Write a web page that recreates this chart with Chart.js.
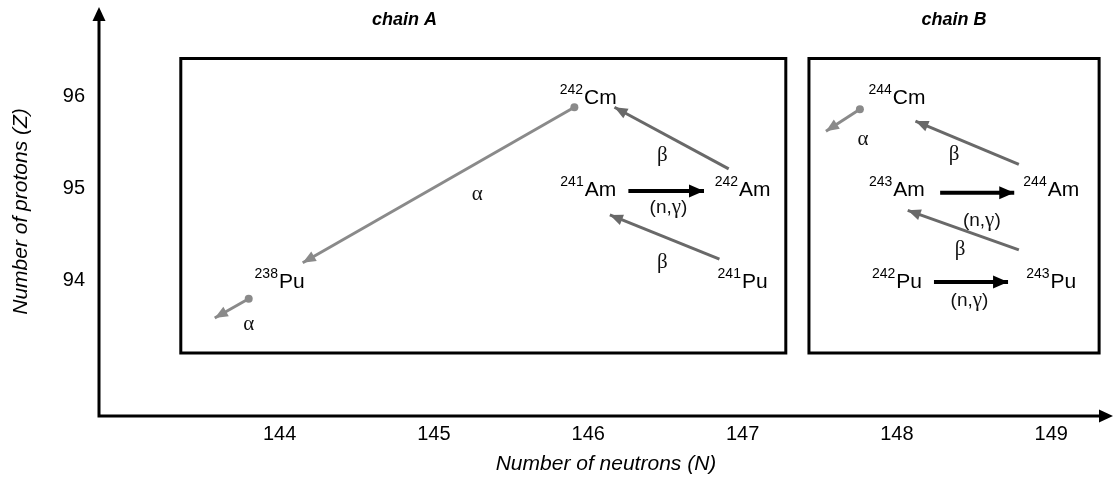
<!DOCTYPE html>
<html>
<head>
<meta charset="utf-8">
<title>Build-up chains of Pu, Am and Cm</title>
<script src="https://cdn.jsdelivr.net/npm/chart.js@4/dist/chart.umd.min.js"></script>
<style>
  html, body { margin: 0; padding: 0; background: #fff; overflow: hidden; }
  canvas { display: block; }
</style>
</head>
<body>
<canvas id="chains" width="1113" height="484"></canvas>
<script>
// axis ticks
const nTicks = [144, 145, 146, 147, 148, 149];
const zTicks = [94, 95, 96];

// nuclides: mass number A, symbol, proton number Z  (N = A - Z)
const nucMass   = [242, 241, 242, 238, 241, 244, 243, 244, 242, 243];
const nucSymbol = ['Cm', 'Am', 'Am', 'Pu', 'Pu', 'Cm', 'Am', 'Am', 'Pu', 'Pu'];
const nucZ      = [96, 95, 95, 94, 94, 96, 95, 95, 94, 94];

// transitions, start (N, Z) -> arrow tip (N, Z)
const trKind  = ['alpha', 'alpha', 'beta', 'beta', 'ng', 'alpha', 'beta', 'beta', 'ng', 'ng'];
const trFromN = [145.91, 143.80, 146.91, 146.85, 146.26, 147.76, 148.79, 148.79, 148.28, 148.24];
const trFromZ = [95.88, 93.80, 95.21, 94.23, 94.97, 95.86, 95.26, 94.33, 94.95, 93.98];
const trToN   = [144.15, 143.58, 146.17, 146.14, 146.75, 147.54, 148.12, 148.07, 148.76, 148.72];
const trToZ   = [94.19, 93.59, 95.88, 94.71, 94.97, 95.62, 95.73, 94.76, 94.95, 93.98];

// transition labels
const tagText = ['α', 'α', 'β', 'β', '(n,γ)', 'α', 'β', 'β', '(n,γ)', '(n,γ)'];
const tagN    = [145.28, 143.80, 146.48, 146.48, 146.52, 147.78, 148.37, 148.41, 148.55, 148.47];
const tagZ    = [94.94, 93.52, 95.36, 94.20, 94.80, 95.53, 95.37, 94.34, 94.66, 93.79];

// chain frames and their titles
const chainName   = ['chain A', 'chain B'];
const chainN0     = [143.36, 147.43];
const chainN1     = [147.28, 149.31];
const chainZ0     = [93.21, 93.21];
const chainZ1     = [96.41, 96.41];
const chainTitleN = [144.81, 148.37];
const chainTitleZ = [96.83, 96.83];

const SANS = "'Liberation Sans', Arial, sans-serif";
const SERIF = "'Liberation Serif', 'Times New Roman', serif";

const kindColor = { alpha: '#8a8a8a', beta: '#696969', ng: '#000000' };
const kindWidth = { alpha: 3, beta: 3, ng: 4 };

const frameSets = chainName.map((name, i) => ({
  label: name,
  type: 'line',
  data: [
    { x: chainN0[i], y: chainZ0[i] }, { x: chainN1[i], y: chainZ0[i] },
    { x: chainN1[i], y: chainZ1[i] }, { x: chainN0[i], y: chainZ1[i] },
    { x: chainN0[i], y: chainZ0[i] }
  ],
  borderColor: '#000',
  borderWidth: 3,
  borderJoinStyle: 'miter',
  borderCapStyle: 'square',
  pointRadius: 0,
  fill: false
}));

const arrowSets = trKind.map((k, i) => ({
  label: 'transition ' + i,
  type: 'line',
  kind: k,
  data: [{ x: trFromN[i], y: trFromZ[i] }, { x: trToN[i], y: trToZ[i] }],
  borderColor: kindColor[k],
  borderWidth: kindWidth[k],
  pointRadius: k === 'alpha' ? [4, 0] : 0,
  pointBackgroundColor: kindColor[k],
  pointBorderWidth: 0,
  fill: false
}));

const nuclideSet = {
  label: 'nuclides',
  type: 'scatter',
  data: nucMass.map((a, i) => ({ x: a - nucZ[i], y: nucZ[i] })),
  pointRadius: 0
};

function arrowHead(ctx, x, y, ang, len, half, color) {
  ctx.save();
  ctx.translate(x, y);
  ctx.rotate(ang);
  ctx.fillStyle = color;
  ctx.beginPath();
  ctx.moveTo(0, 0);
  ctx.lineTo(-len, -half);
  ctx.lineTo(-len, half);
  ctx.closePath();
  ctx.fill();
  ctx.restore();
}

// mixed sans / serif text, centred on (cx, cy)
function drawTag(ctx, text, cx, cy) {
  const parts = [];
  for (const ch of text) {
    const greek = /[α-ω]/.test(ch);
    parts.push({ ch, font: greek ? `21px ${SERIF}` : `19px ${SANS}` });
  }
  let w = 0;
  parts.forEach(p => { ctx.font = p.font; p.w = ctx.measureText(p.ch).width; w += p.w; });
  let x = cx - w / 2;
  ctx.textAlign = 'left';
  ctx.textBaseline = 'alphabetic';
  parts.forEach(p => { ctx.font = p.font; ctx.fillText(p.ch, x, cy + 6); x += p.w; });
}

function drawNuclide(ctx, cx, cy, mass, sym) {
  const sup = String(mass);
  ctx.font = `14px ${SANS}`;
  const wSup = ctx.measureText(sup).width;
  ctx.font = `21px ${SANS}`;
  const wSym = ctx.measureText(sym).width;
  const x0 = cx - (wSup + 1 + wSym) / 2;
  const base = cy + 7.5;
  ctx.textAlign = 'left';
  ctx.textBaseline = 'alphabetic';
  ctx.font = `14px ${SANS}`;
  ctx.fillText(sup, x0, base - 10);
  ctx.font = `21px ${SANS}`;
  ctx.fillText(sym, x0 + wSup + 1, base);
}

const chainDecor = {
  id: 'chainDecor',
  afterDatasetsDraw(chart) {
    const { ctx, chartArea: a, scales: { x, y } } = chart;
    ctx.save();

    // axes with arrow heads
    ctx.strokeStyle = '#000';
    ctx.lineWidth = 3;
    ctx.lineJoin = 'miter';
    ctx.beginPath();
    ctx.moveTo(a.left, a.top + 10);
    ctx.lineTo(a.left, a.bottom);
    ctx.lineTo(a.right - 10, a.bottom);
    ctx.stroke();
    arrowHead(ctx, a.left, a.top, -Math.PI / 2, 14, 6.5, '#000');
    arrowHead(ctx, a.right, a.bottom, 0, 14, 6.5, '#000');

    // heads of the transition arrows
    chart.data.datasets.forEach((ds, i) => {
      if (!ds.kind) return;
      const pts = chart.getDatasetMeta(i).data;
      const p0 = pts[0], p1 = pts[1];
      const ang = Math.atan2(p1.y - p0.y, p1.x - p0.x);
      if (ds.kind === 'ng') arrowHead(ctx, p1.x, p1.y, ang, 15, 6.5, kindColor.ng);
      else arrowHead(ctx, p1.x, p1.y, ang, 13, 5.5, kindColor[ds.kind]);
    });

    // nuclide names
    ctx.fillStyle = '#000';
    const nucIdx = chart.data.datasets.indexOf(nuclideSet);
    chart.getDatasetMeta(nucIdx).data.forEach((p, i) => {
      drawNuclide(ctx, p.x, p.y, nucMass[i], nucSymbol[i]);
    });

    // transition labels
    ctx.fillStyle = '#111';
    tagText.forEach((t, i) => {
      drawTag(ctx, t, x.getPixelForValue(tagN[i]), y.getPixelForValue(tagZ[i]));
    });

    // chain titles
    ctx.fillStyle = '#000';
    ctx.font = `italic bold 18px ${SANS}`;
    ctx.textAlign = 'center';
    ctx.textBaseline = 'middle';
    chainName.forEach((t, i) => {
      ctx.fillText(t, x.getPixelForValue(chainTitleN[i]), y.getPixelForValue(chainTitleZ[i]));
    });

    ctx.restore();
  }
};

// keep the plot area flush with the axes: no extra room for edge labels
function noEdgePadding(s) {
  s.paddingTop = 0;
  s.paddingBottom = 0;
  s.paddingLeft = 0;
  s.paddingRight = 0;
}

new Chart(document.getElementById('chains'), {
  type: 'scatter',
  data: { datasets: [...frameSets, ...arrowSets, nuclideSet] },
  options: {
    responsive: false,
    animation: false,
    devicePixelRatio: 1,
    // no automatic room for the decay dots: the x axis runs to the right edge
    layout: { autoPadding: false, padding: { top: 7, right: 0, bottom: 0, left: 0 } },
    plugins: { legend: { display: false }, tooltip: { enabled: false } },
    scales: {
      x: {
        type: 'linear',
        min: 142.83,
        max: 149.40,
        afterBuildTicks: s => { s.ticks = nTicks.map(v => ({ value: v })); },
        afterFit: s => { s.height = 68; noEdgePadding(s); },
        grid: { display: false, drawTicks: false },
        border: { display: false },
        ticks: { color: '#000', font: { family: SANS, size: 20 }, padding: 6 },
        title: {
          display: true,
          text: 'Number of neutrons (N)',
          color: '#000',
          font: { family: SANS, size: 21, style: 'italic' },
          padding: { top: 4, bottom: 7 }
        }
      },
      y: {
        type: 'linear',
        min: 92.525,
        max: 96.97,
        afterBuildTicks: s => { s.ticks = zTicks.map(v => ({ value: v })); },
        afterFit: s => { s.width = 99; noEdgePadding(s); },
        grid: { display: false, drawTicks: false },
        border: { display: false },
        ticks: { color: '#000', font: { family: SANS, size: 20 }, padding: 14 },
        title: {
          display: true,
          text: 'Number of protons (Z)',
          color: '#000',
          font: { family: SANS, size: 21, style: 'italic' },
          padding: { top: 9, bottom: 0 }
        }
      }
    }
  },
  plugins: [chainDecor]
});
</script>
</body>
</html>
